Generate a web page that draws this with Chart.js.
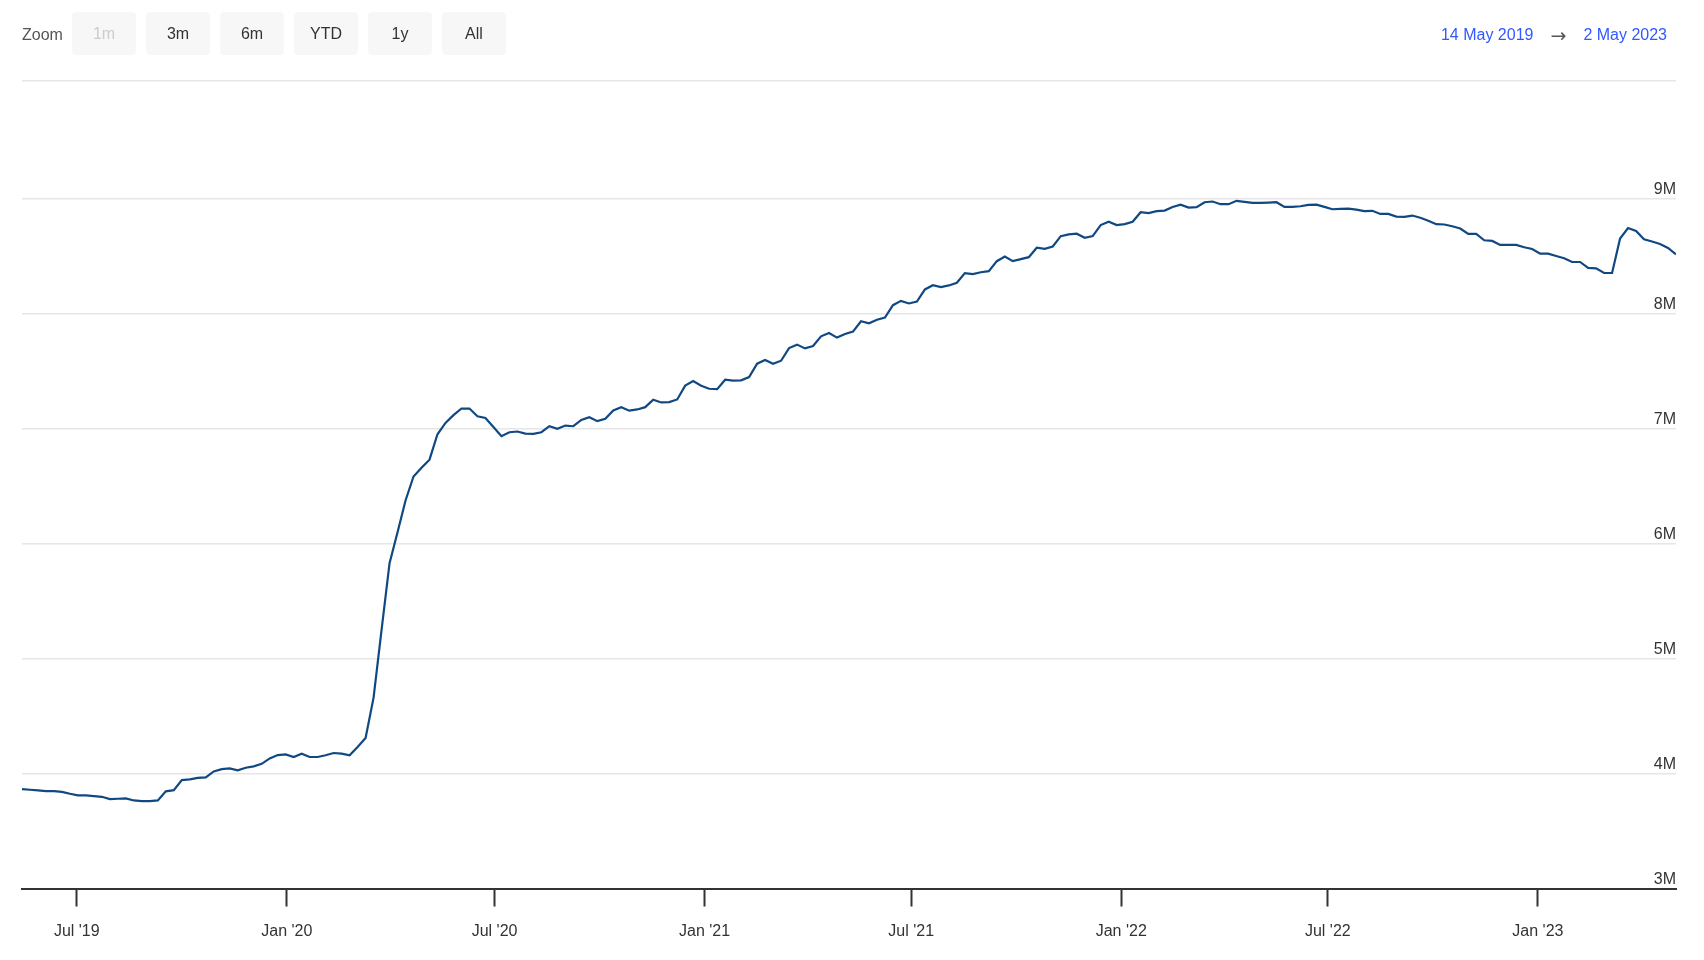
<!DOCTYPE html>
<html>
<head>
<meta charset="utf-8">
<script src="https://cdn.jsdelivr.net/npm/chart.js@4/dist/chart.umd.min.js"></script>
<style>
    body { margin: 0; background: #fff; font-family: "Liberation Sans", Arial, sans-serif; }
    #wrap { position: relative; width: 1704px; height: 960px; }
    #graphique { position: absolute; left: 0; top: 0; }
    .zoom-label { position: absolute; left: 22px; top: 25px; font-size: 16px; color: #555; line-height: 20px; }
    .bouton { position: absolute; top: 12px; width: 64px; height: 43px; line-height: 44px; background: #f7f7f7; border-radius: 4px; text-align: center; font-size: 16px; color: #333; }
    .bouton.off { color: #ccc; }
    .periode { position: absolute; right: 37px; top: 25px; font-size: 16px; line-height: 20px; color: #3358ff; display: flex; align-items: center; }
    .periode .fleche { color: #555; margin: 0 17px; font-family: "DejaVu Sans", sans-serif; font-size: 19px; line-height: 20px; }
</style>
</head>
<body>
<div id="wrap">
    <canvas id="graphique" width="1704" height="960"></canvas>
    <div class="zoom-label">Zoom</div>
    <div class="bouton off" style="left:72px">1m</div>
    <div class="bouton" style="left:146px">3m</div>
    <div class="bouton" style="left:220px">6m</div>
    <div class="bouton" style="left:294px">YTD</div>
    <div class="bouton" style="left:368px">1y</div>
    <div class="bouton" style="left:442px">All</div>
    <div class="periode"><span>14 May 2019</span><span class="fleche">→</span><span>2 May 2023</span></div>
</div>
<script>
// valeurs hebdomadaires (en millions), du 14 mai 2019 au 2 mai 2023
const valeurs = [
    3.865, 3.859, 3.853, 3.847, 3.847, 3.841, 3.824, 3.810, 3.810, 3.804,
    3.798, 3.778, 3.781, 3.784, 3.766, 3.760, 3.760, 3.766, 3.845, 3.856,
    3.943, 3.949, 3.963, 3.967, 4.019, 4.039, 4.045, 4.028, 4.051, 4.063,
    4.085, 4.132, 4.161, 4.167, 4.144, 4.173, 4.144, 4.144, 4.159, 4.179,
    4.173, 4.159, 4.231, 4.310, 4.661, 5.250, 5.830, 6.100, 6.376, 6.585,
    6.661, 6.731, 6.952, 7.051, 7.118, 7.176, 7.176, 7.109, 7.094, 7.016,
    6.935, 6.970, 6.976, 6.958, 6.955, 6.970, 7.022, 6.999, 7.028, 7.022,
    7.077, 7.101, 7.066, 7.087, 7.159, 7.188, 7.157, 7.168, 7.188, 7.253,
    7.229, 7.232, 7.255, 7.375, 7.415, 7.375, 7.348, 7.345, 7.427, 7.418,
    7.421, 7.450, 7.566, 7.598, 7.566, 7.592, 7.702, 7.732, 7.699, 7.720,
    7.804, 7.833, 7.793, 7.824, 7.845, 7.935, 7.918, 7.948, 7.968, 8.075,
    8.113, 8.090, 8.107, 8.212, 8.249, 8.232, 8.247, 8.270, 8.354, 8.345,
    8.362, 8.371, 8.458, 8.499, 8.458, 8.476, 8.493, 8.575, 8.566, 8.586,
    8.676, 8.691, 8.697, 8.662, 8.676, 8.772, 8.801, 8.772, 8.781, 8.801,
    8.884, 8.876, 8.893, 8.898, 8.930, 8.950, 8.924, 8.928, 8.971, 8.977,
    8.954, 8.954, 8.983, 8.974, 8.965, 8.965, 8.968, 8.971, 8.930, 8.930,
    8.936, 8.948, 8.950, 8.930, 8.910, 8.913, 8.916, 8.907, 8.893, 8.896,
    8.869, 8.869, 8.846, 8.843, 8.855, 8.836, 8.810, 8.780, 8.777, 8.762,
    8.742, 8.695, 8.695, 8.640, 8.634, 8.599, 8.599, 8.599, 8.579, 8.564,
    8.524, 8.524, 8.503, 8.483, 8.451, 8.451, 8.399, 8.396, 8.355, 8.355,
    8.655, 8.747, 8.721, 8.649, 8.629, 8.608, 8.573, 8.518
]
const joursParPoint = 7 // un point par semaine
const dernierJour = 1449 // 2 mai 2023, en jours depuis le 14 mai 2019

// graduations de l'axe x (jours depuis le 14 mai 2019)
const joursTicks = [48, 232, 414, 598, 779, 963, 1144, 1328]
const labelsTicks = ["Jul '19", "Jan '20", "Jul '20", "Jan '21", "Jul '21", "Jan '22", "Jul '22", "Jan '23"]

// graduations de l'axe y (millions)
const valeursTicksY = [3, 4, 5, 6, 7, 8, 9]
const maxY = 10.03

const points = valeurs.map((v, i) => ({ x: i * joursParPoint, y: v }))
const police = { family: '"Liberation Sans", Arial, sans-serif', size: 16 }

new Chart(document.querySelector('#graphique'), {
    type: 'line',
    data: {
        datasets: [{
            data: points,
            borderColor: '#104882',
            borderWidth: 2.2,
            pointRadius: 0,
            tension: 0,
            fill: false
        }]
    },
    options: {
        responsive: false,
        animation: false,
        layout: { padding: { left: 22, right: 28, top: 80.5, bottom: 0 } },
        plugins: { legend: { display: false }, tooltip: { enabled: false } },
        scales: {
            x: {
                type: 'linear',
                min: 0,
                max: dernierJour,
                afterBuildTicks: (axe) => { axe.ticks = joursTicks.map(j => ({ value: j })) },
                afterFit: (axe) => { axe.height = 71.5 },
                ticks: {
                    autoSkip: false,
                    maxRotation: 0,
                    padding: 15,
                    color: '#333',
                    font: police,
                    callback: (v) => labelsTicks[joursTicks.indexOf(v)]
                },
                grid: {
                    drawOnChartArea: false,
                    drawTicks: true,
                    tickLength: 18,
                    tickColor: '#333',
                    tickWidth: 2
                },
                border: { display: true, color: '#333', width: 2 }
            },
            y: {
                position: 'right',
                min: 3,
                max: maxY,
                afterBuildTicks: (axe) => { axe.ticks = [...valeursTicksY, maxY].map(v => ({ value: v })) },
                afterFit: (axe) => { axe.width = 0 },
                ticks: {
                    mirror: true,
                    padding: 0,
                    labelOffset: -9,
                    color: '#333',
                    font: police,
                    callback: (v) => valeursTicksY.includes(v) ? v + 'M' : ''
                },
                grid: { drawTicks: false, color: '#e6e6e6', lineWidth: 1.5 },
                border: { display: false }
            }
        }
    }
})
</script>
</body>
</html>
